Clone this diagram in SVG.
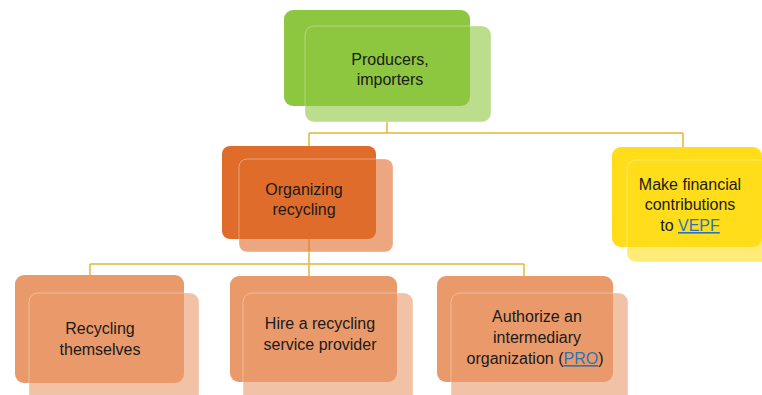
<svg xmlns="http://www.w3.org/2000/svg" width="762" height="395" viewBox="0 0 762 395">
  <style>
    .lbl { font-family: "Liberation Sans", Arial, sans-serif; font-size: 16px; fill: #1a1a1a; text-anchor: middle; }
    .link { fill: #2E74B5; text-decoration: underline; }
    .conn { fill: none; stroke: #E4B53A; stroke-width: 1.5; }
    .front { fill-opacity: 0.6; stroke: #ffffff; stroke-opacity: 0.35; stroke-width: 1; }
    .green { fill: #8DC63F; }
    .orange { fill: #E06C2C; }
    .salmon { fill: #E9996A; }
    .yellow { fill: #FFDD1A; }
  </style>

  <!-- connectors -->
  <g id="connectors">
    <path class="conn" d="M387 122 V133 M309 133 H683 M309 133 V146 M683 133 V147"/>
    <path class="conn" d="M309 252 V264 M90 264 H524 M90 264 V275 M309 264 V276 M524 264 V276"/>
    <path class="conn" d="M309 146 V252"/>
  </g>

  <!-- root -->
  <g id="producers">
    <rect class="green" x="284" y="10" width="186" height="96" rx="9"/>
    <rect class="green front" x="305" y="26" width="186" height="96" rx="9"/>
    <text class="lbl" x="390" y="65">Producers,</text>
    <text class="lbl" x="390" y="85">importers</text>
  </g>

  <!-- second level -->
  <g id="organizing">
    <rect class="orange" x="222" y="146" width="154" height="93" rx="8"/>
    <rect class="orange front" x="239" y="159" width="154" height="93" rx="8"/>
    <text class="lbl" x="304" y="195">Organizing</text>
    <text class="lbl" x="304" y="215">recycling</text>
  </g>

  <g id="contributions">
    <rect class="yellow" x="612" y="147" width="150" height="100" rx="9"/>
    <rect class="yellow front" x="627" y="160" width="150" height="102" rx="9"/>
    <text class="lbl" x="690" y="190">Make financial</text>
    <text class="lbl" x="690" y="210">contributions</text>
    <text class="lbl" x="690" y="231">to <tspan class="link">VEPF</tspan></text>
  </g>

  <!-- third level -->
  <g id="self">
    <rect class="salmon" x="15" y="275" width="169" height="108" rx="9"/>
    <rect class="salmon front" x="29" y="293" width="170" height="110" rx="9"/>
    <text class="lbl" x="100" y="334">Recycling</text>
    <text class="lbl" x="100" y="355">themselves</text>
  </g>

  <g id="provider">
    <rect class="salmon" x="230" y="276" width="167" height="106" rx="9"/>
    <rect class="salmon front" x="243" y="293" width="170" height="110" rx="9"/>
    <text class="lbl" x="320" y="329">Hire a recycling</text>
    <text class="lbl" x="320" y="350">service provider</text>
  </g>

  <g id="pro">
    <rect class="salmon" x="437" y="276" width="176" height="106" rx="9"/>
    <rect class="salmon front" x="451" y="293" width="177" height="110" rx="9"/>
    <text class="lbl" x="537" y="322">Authorize an</text>
    <text class="lbl" x="537" y="343">intermediary</text>
    <text class="lbl" x="535" y="364">organization (<tspan class="link">PRO</tspan>)</text>
  </g>
</svg>
